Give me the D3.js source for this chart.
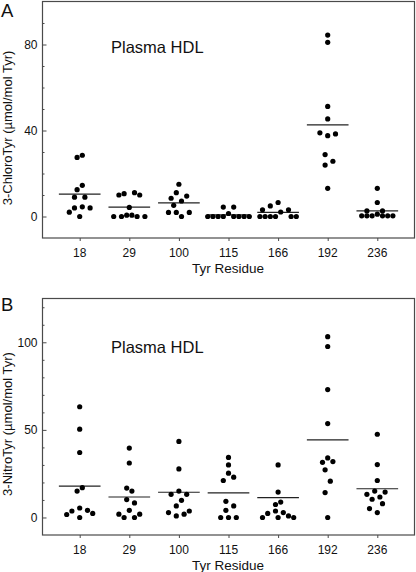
<!DOCTYPE html>
<html><head><meta charset="utf-8">
<script src="https://cdn.jsdelivr.net/npm/d3@7"></script>
<style>
html,body{margin:0;padding:0;background:#fff;}
svg{display:block;font-family:"Liberation Sans",Arial,sans-serif;}
</style></head>
<body>
<svg id="chart" width="416" height="572"></svg>
<script>
// ---------- data ----------
const categories = ["18", "29", "100", "115", "166", "192", "236"];

// Panel A: 3-ChloroTyr (µmol/mol Tyr)
const chloroValues = [
  [27.5, 28.5, 14.5, 12.5, 9, 9, 2, 4, 4.5, 4, 0],
  [10, 10.6, 11.1, 10, 4.2, 0, 0, 0.6, 0.6, 0, 0],
  [15, 11.1, 8.5, 9.5, 7.2, 5.2, 1.9, 1.9, 1.9, 0],
  [4.4, 4.4, 1.4, 0, 0, 0, 0, 0, 0, 0, 0],
  [3.1, 4.9, 6.5, 2.1, 3.1, 0, 0, 0, 0, 0, 0],
  [84.4, 81, 51.2, 45.4, 38.9, 37.6, 38.4, 28.8, 23.9, 25.7, 13.1],
  [13.1, 6.5, 2.6, 2.6, 1.1, 0.3, 0.3, 0.3, 0.3, 0.3, 0.3]
];
// horizontal spread of each dot, in dot diameters
const chloroJitter = [
  [-0.5, 0.5, 0.5, -0.5, -1, 1, -2, -1, 0.5, 2, 0],
  [-2, -1, 1, 2, 0, -3, -1.5, -0.5, 0.5, 1.5, 3],
  [0, -0.5, -1.5, 1.5, 0.5, -1, -2, -0.5, 2, 0.5],
  [-1, 1, 0, -4, -3, -2, -1, 1, 2, 3, 4],
  [-3, -1.5, 0, 0.5, 2, -3.5, -2.5, -1.5, -0.5, 2.5, 3.5],
  [0, 0, 0, 0, -1.5, 0, 1.5, -0.5, -0.5, 1, 0],
  [0, 0, -2, 1, 0, -3, -2, -1, 1, 2, 3]
];
const chloroMeans = [10.4, 4.4, 6.3, 0.8, 1.9, 42.6, 2.6];
const chloroMajorTicks = [0, 40, 80];

// Panel B: 3-NitroTyr (µmol/mol Tyr)
const nitroValues = [
  [63.2, 50.4, 37.1, 17.0, 15.1, 1.7, 3.7, 5.4, 4.1, 0, 2.3],
  [39.6, 31.1, 16.8, 15.1, 10.2, 8.3, 4.1, 1.9, 0, 0, 1.9],
  [43.4, 27.7, 15.1, 13.2, 13.2, 9.8, 6.6, 2.8, 3.7, 0.9, 1.9],
  [34.3, 30.0, 25.3, 23.0, 21.1, 9.2, 6.6, 4.1, 0, 0, 0],
  [30.0, 14.5, 8.8, 7.4, 0, 2.3, 3.7, 0, 2.8, 0.9, 0],
  [103.2, 97.6, 73.0, 53.6, 31.5, 34.0, 31.9, 27.2, 20.7, 14.2, 0],
  [47.5, 30.2, 21.1, 13.2, 15.1, 14.5, 10.4, 11.7, 7.9, 5.1, 2.8]
];
const nitroJitter = [
  [0, 0, 0, 0.5, -0.5, -2.5, -1.5, 0, 1.5, 0, 2.5],
  [0, 0, -0.5, 0.5, -0.5, 1, 0, -2, -1, 1, 2],
  [0, 0, 0, -1.5, 1.5, 0.5, -0.5, -2, 2, -0.5, 1],
  [0, 0, 0, 1, -1, -0.5, 1, -0.5, -1.5, 0, 1.5],
  [0, 0, 0.5, -0.5, -3, -2, -0.5, 0, 1, 2, 3],
  [0, 0, 0, 0, -1, 0, 1, -0.5, 0.5, -0.5, 0],
  [0, 0, 0, -2, -0.5, 1.5, -1, 0.5, 1, -1.5, 0]
];
const nitroMeans = [17.9, 11.7, 14.4, 14.1, 11.3, 44.3, 16.4];
const nitroMajorTicks = [0, 50, 100];

// ---------- drawing ----------
const svg = d3.select("#chart");
const R = 2.6;
const frameColor = "#4a4a4a";

function panel(cfg) {
  const g = svg.append("g");
  const x = d3.scaleLinear().domain([0.25, 7.75]).range([42.5, 414.5]);
  const y = d3.scaleLinear().domain(cfg.domain).range([cfg.bottom, cfg.top]);

  // frame
  g.append("rect")
    .attr("x", x.range()[0]).attr("y", cfg.top)
    .attr("width", x.range()[1] - x.range()[0]).attr("height", cfg.bottom - cfg.top)
    .attr("fill", "none").attr("stroke", frameColor).attr("stroke-width", 1.2);

  // y axis: minor ticks inward
  const minor = d3.range(Math.ceil(cfg.domain[0] / 10) * 10, cfg.domain[1] + 0.01, 10)
    .filter(v => !cfg.major.includes(v) && v > cfg.domain[0] && v < cfg.domain[1]);
  const yMinor = d3.axisRight(y).tickValues(minor).tickSize(2).tickFormat("");
  const gm = g.append("g").attr("transform", `translate(${x.range()[0]},0)`).call(yMinor);
  gm.select(".domain").remove();
  gm.selectAll("line").attr("stroke", frameColor);

  const yMajor = d3.axisRight(y).tickValues(cfg.major).tickSize(4).tickFormat("");
  const gM = g.append("g").attr("transform", `translate(${x.range()[0]},0)`).call(yMajor);
  gM.select(".domain").remove();
  gM.selectAll("line").attr("stroke", frameColor);

  // y labels
  g.selectAll(".ylab").data(cfg.major).enter().append("text")
    .attr("x", x.range()[0] - 5).attr("y", d => y(d))
    .attr("dy", "0.36em").attr("text-anchor", "end")
    .attr("font-size", 12).attr("fill", "#111").text(d => d);

  // x axis: ticks outward
  const xAxis = d3.axisBottom(x).tickValues(d3.range(1, categories.length + 1))
    .tickSize(3).tickFormat("");
  const gx = g.append("g").attr("transform", `translate(0,${cfg.bottom})`).call(xAxis);
  gx.select(".domain").remove();
  gx.selectAll("line").attr("stroke", frameColor);
  g.selectAll(".xlab").data(categories).enter().append("text")
    .attr("x", (d, i) => x(i + 1)).attr("y", cfg.bottom + 18.5)
    .attr("text-anchor", "middle").attr("font-size", 12).attr("fill", "#111").text(d => d);

  g.append("text").attr("x", 228).attr("y", cfg.bottom + 35)
    .attr("text-anchor", "middle").attr("font-size", 13.5).attr("fill", "#111")
    .text("Tyr Residue");

  // y title
  g.append("text")
    .attr("transform", `translate(12,${cfg.titleY}) rotate(-90)`)
    .attr("text-anchor", "middle").attr("font-size", 13).attr("fill", "#111")
    .text(cfg.title);

  // panel letter
  g.append("text").attr("x", 1).attr("y", cfg.letterY)
    .attr("font-size", 18.5).attr("fill", "#111").text(cfg.letter);

  // annotation
  g.append("text").attr("x", 111).attr("y", cfg.noteY)
    .attr("font-size", 16.5).attr("fill", "#111").text("Plasma HDL");

  // mean lines
  g.selectAll(".mean").data(cfg.means).enter().append("line")
    .attr("x1", (d, i) => x(i + 1 - 0.42)).attr("x2", (d, i) => x(i + 1 + 0.42))
    .attr("y1", d => y(d)).attr("y2", d => y(d))
    .attr("stroke", "#222").attr("stroke-width", 1.2);

  // dots
  const pts = [];
  cfg.values.forEach((vals, i) => vals.forEach((v, j) =>
    pts.push({ i, v, j: cfg.jitter[i][j] })));
  g.selectAll(".dot").data(pts).enter().append("circle")
    .attr("cx", d => x(d.i + 1) + d.j * 2 * R)
    .attr("cy", d => y(d.v))
    .attr("r", R).attr("fill", "#000");
}

panel({
  domain: [-10, 100], top: 1.5, bottom: 238, major: chloroMajorTicks,
  values: chloroValues, jitter: chloroJitter, means: chloroMeans,
  title: "3-ChloroTyr (\u00b5mol/mol Tyr)", titleY: 128, letter: "A", letterY: 17, noteY: 53
});
panel({
  domain: [-10, 125], top: 298.5, bottom: 535, major: nitroMajorTicks,
  values: nitroValues, jitter: nitroJitter, means: nitroMeans,
  title: "3-NitroTyr (\u00b5mol/mol Tyr)", titleY: 424, letter: "B", letterY: 311, noteY: 352.5
});
</script>
</body></html>
